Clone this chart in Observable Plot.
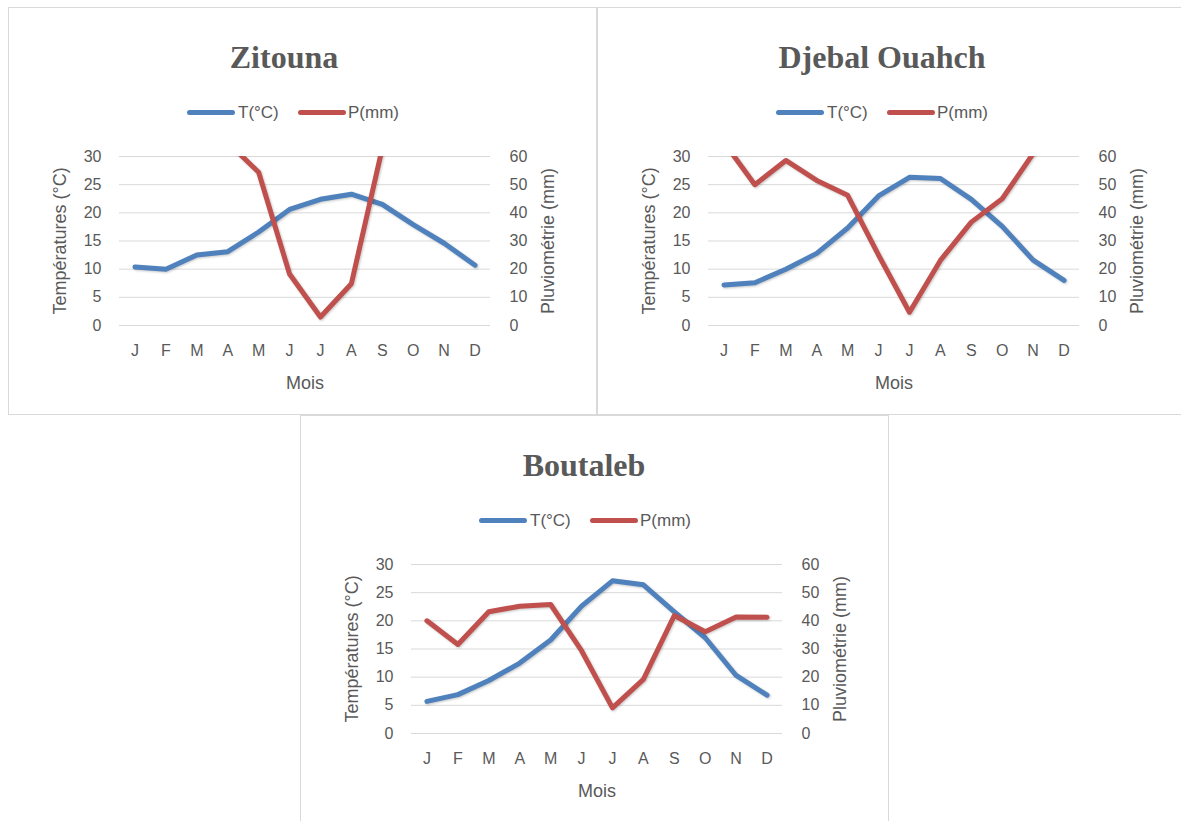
<!DOCTYPE html>
<html><head><meta charset="utf-8">
<script src="https://cdn.jsdelivr.net/npm/d3@7"></script>
<script src="https://cdn.jsdelivr.net/npm/@observablehq/plot@0.6"></script>
<style>
body{margin:0;background:#fff;width:1181px;height:821px;overflow:hidden;position:relative;font-family:"Liberation Sans",Arial,sans-serif;}
.panel{position:absolute;width:587px;height:406px;border:1px solid #d9d9d9;background:#fff;}
.title{position:absolute;top:33px;line-height:32px;font-family:"Liberation Serif","Times New Roman",serif;font-weight:bold;font-size:32px;color:#595959;transform:translateX(-50%);white-space:nowrap;}
.lg{position:absolute;top:95px;height:20px;line-height:20px;font-size:17px;color:#595959;white-space:nowrap;}
.sw{position:absolute;top:102px;width:48px;height:5px;border-radius:3px;}
.chart{position:absolute;left:0;top:127px;}
.chart g[aria-label="line"] path{filter:drop-shadow(1px 1.5px 1px rgba(0,0,0,0.22));}
</style>
</head><body>
<div id="root"></div>
<script>
const months = ["J","F","M","A","M","J","J","A","S","O","N","D"];
const tempTicks = [0, 5, 10, 15, 20, 25, 30];
const stations = ["Zitouna", "Djebal Ouahch", "Boutaleb"];
const zitounaT = [10.4, 10.0, 12.5, 13.1, 16.6, 20.6, 22.4, 23.3, 21.5, 17.9, 14.6, 10.7];
const zitounaP = [95, 85, 75, 65, 54.4, 18.3, 3.0, 14.8, 63, 85, 100, 110];
const djebalT = [7.2, 7.6, 10.0, 12.8, 17.3, 23.0, 26.3, 26.1, 22.4, 17.6, 11.6, 8.0];
const djebalP = [65, 50, 58.6, 51.5, 46.2, 25, 4.7, 23.1, 36.7, 45, 61, 80];
const boutalebT = [5.7, 6.9, 9.4, 12.5, 16.6, 22.6, 27.1, 26.4, 21.6, 17.0, 10.3, 6.8];
const boutalebP = [40, 31.6, 43.2, 45.2, 45.8, 29.4, 9.1, 19.2, 41.9, 36.1, 41.4, 41.3];
const seriesT = [zitounaT, djebalT, boutalebT];
const seriesP = [zitounaP, djebalP, boutalebP];
const legendLabels = ["T(°C)", "P(mm)"];
const yLeftTitle = "Températures (°C)";
const yRightTitle = "Pluviométrie (mm)";
const xTitle = "Mois";

const blue = "#4f81bd", red = "#c0504d", textCol = "#595959";
const panelPos = [[8, 7], [597, 7], [300, 415]];
const titleX = [275, 284, 283];

function chart(T, P) {
  const idx = d3.range(12);
  const dT = idx.map(i => ({i, v: T[i]}));
  const dP = idx.map(i => ({i, v: P[i] / 2}));
  return Plot.plot({
    width: 587, height: 270,
    marginLeft: 110, marginRight: 106, marginTop: 21, marginBottom: 80,
    style: {fontSize: "16px", fontFamily: "'Liberation Sans', Arial, sans-serif", color: textCol, background: "transparent", overflow: "visible"},
    x: {type: "point", domain: idx, padding: 0.5, round: false, axis: null},
    y: {domain: [0, 30], axis: null},
    marks: [
      Plot.gridY({ticks: tempTicks, stroke: "#d9d9d9", strokeOpacity: 1, strokeWidth: 1}),
      Plot.axisY({ticks: tempTicks, anchor: "left", tickSize: 0, tickPadding: 18, label: null}),
      Plot.axisY({ticks: tempTicks, anchor: "right", tickSize: 0, tickPadding: 19, tickFormat: d => d * 2, label: null}),
      Plot.axisX({ticks: idx, tickSize: 0, tickPadding: 19, tickFormat: i => months[i], label: null}),
      Plot.line(dT, {x: "i", y: "v", stroke: blue, strokeWidth: 5, clip: true}),
      Plot.line(dP, {x: "i", y: "v", stroke: red, strokeWidth: 5, clip: true}),
      Plot.text([yLeftTitle], {frameAnchor: "left", textAnchor: "middle", lineAnchor: "middle", dx: -59, rotate: -90, fontSize: 18, fill: textCol}),
      Plot.text([yRightTitle], {frameAnchor: "right", textAnchor: "middle", lineAnchor: "middle", dx: 58, rotate: -90, fontSize: 18, fill: textCol}),
      Plot.text([xTitle], {frameAnchor: "bottom", textAnchor: "middle", lineAnchor: "middle", dy: 58, fontSize: 18, fill: textCol})
    ]
  });
}

const root = document.getElementById("root");
stations.forEach((name, k) => {
  const p = document.createElement("div");
  p.className = "panel";
  p.style.left = panelPos[k][0] + "px";
  p.style.top = panelPos[k][1] + "px";
  const t = document.createElement("div");
  t.className = "title"; t.textContent = name; t.style.left = titleX[k] + "px";
  p.appendChild(t);
  const items = [[blue, 178, 229], [red, 289, 339]];
  items.forEach(([c, sx, tx], j) => {
    const sw = document.createElement("div");
    sw.className = "sw"; sw.style.left = sx + "px"; sw.style.background = c;
    p.appendChild(sw);
    const lt = document.createElement("div");
    lt.className = "lg"; lt.style.left = tx + "px"; lt.textContent = legendLabels[j];
    p.appendChild(lt);
  });
  const c = chart(seriesT[k], seriesP[k]);
  c.classList.add("chart");
  p.appendChild(c);
  root.appendChild(p);
});
</script>
</body></html>
